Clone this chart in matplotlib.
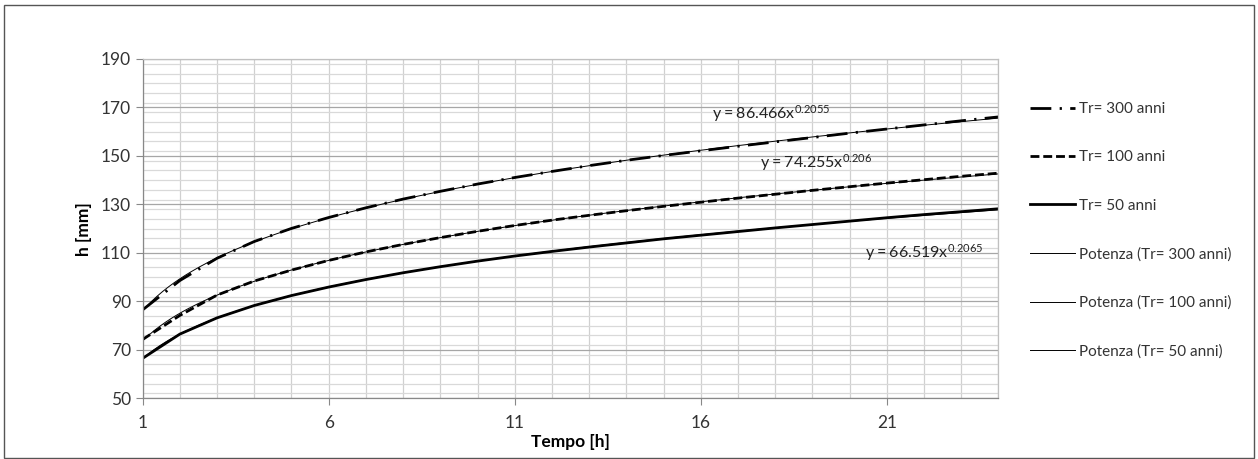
import numpy as np
import matplotlib.pyplot as plt
from matplotlib.patches import Rectangle
from matplotlib.ticker import MultipleLocator

plt.rcParams['font.family'] = ['Lato', 'DejaVu Sans']
plt.rcParams['mathtext.fontset'] = 'custom'
plt.rcParams['mathtext.rm'] = 'Lato'

# durata [h]
tempo = np.arange(1, 25)

# altezze di pioggia [mm]
h_300 = [86.5, 98.6, 107.8, 114.7, 120.1, 124.6, 128.6, 132.2, 135.4, 138.4,
         141.1, 143.6, 146.0, 148.2, 150.2, 152.1, 154.0, 155.8, 157.6, 159.4,
         161.1, 162.8, 164.5, 166.1]
h_100 = [74.3, 84.2, 92.6, 98.4, 102.9, 106.9, 110.4, 113.5, 116.3, 118.9,
         121.3, 123.5, 125.5, 127.4, 129.2, 130.9, 132.6, 134.2, 135.8, 137.3,
         138.8, 140.2, 141.6, 142.9]
h_50 = [66.5, 76.5, 83.2, 88.3, 92.4, 95.9, 99.0, 101.8, 104.3, 106.6,
        108.7, 110.6, 112.4, 114.1, 115.8, 117.3, 118.8, 120.3, 121.7, 123.1,
        124.5, 125.8, 127.0, 128.2]

labels = ["Tr= 300 anni", "Tr= 100 anni", "Tr= 50 anni"]
equations = [r"$\mathrm{y = 86.466x^{0.2055}}$",
             r"$\mathrm{y = 74.255x^{0.206}}$",
             r"$\mathrm{y = 66.519x^{0.2065}}$"]
eq_pos = [(16.3, 167.3), (17.6, 147.1), (20.4, 110.0)]

fig = plt.figure(figsize=(12.58, 4.59), dpi=100)
ax = fig.add_axes([0.1134, 0.1322, 0.6803, 0.7393])

lw = 2.0
styles = [dict(dashes=(7.5, 3, 0.8, 3)), dict(dashes=(3.2, 1.4)), dict(linestyle='-')]
series = [h_300, h_100, h_50]

data_lines = []
for h, lab, st in zip(series, labels, styles):
    l, = ax.plot(tempo, h, color='black', lw=lw, label=lab, **st)
    data_lines.append(l)

# linee di tendenza di potenza (regressione log-log come in Excel)
xx = np.linspace(1, 24, 300)
fit_lines = []
for h, lab in zip(series, labels):
    b, ln_a = np.polyfit(np.log(tempo), np.log(h), 1)
    l, = ax.plot(xx, np.exp(ln_a) * xx ** b, color='black', lw=0.7,
                 label="Potenza (%s)" % lab)
    fit_lines.append(l)

for eq, (x, y) in zip(equations, eq_pos):
    ax.text(x, y, eq, fontsize=11.5, va='center', ha='left', color='#222222')

ax.set_xlim(1, 24)
ax.set_ylim(50, 190)
ax.set_xticks([1, 6, 11, 16, 21])
ax.xaxis.set_minor_locator(MultipleLocator(1))
ax.set_yticks(np.arange(50, 191, 20))
ax.yaxis.set_minor_locator(MultipleLocator(4))
ax.grid(which='major', axis='y', color='#a6a6a6', lw=0.9)
ax.grid(which='minor', axis='y', color='#d9d9d9', lw=0.9)
ax.grid(which='both', axis='x', color='#d0d0d0', lw=0.9)
ax.set_axisbelow(True)
ax.tick_params(which='major', length=5, color='#888888', labelsize=12.5, labelcolor='#333333')
ax.tick_params(which='minor', length=0)
ax.tick_params(axis='x', pad=7)
for s in ['top', 'right']:
    ax.spines[s].set_color('#c0c0c0')
    ax.spines[s].set_linewidth(0.9)
for s in ['left', 'bottom']:
    ax.spines[s].set_color('#888888')
    ax.spines[s].set_linewidth(0.9)

ax.set_xlabel("Tempo [h]", fontsize=12.5, fontweight='bold', labelpad=2)
ax.set_ylabel("h [mm]", fontsize=12.5, fontweight='bold', labelpad=6)

fig.legend(handles=data_lines + fit_lines, loc='upper left',
           bbox_to_anchor=(0.808, 0.808), frameon=False, fontsize=11,
           handlelength=2.9, handletextpad=0.3, labelspacing=2.25,
           labelcolor='#333333')

fig.patches.append(Rectangle((0.003, 0.003), 0.994, 0.986, transform=fig.transFigure,
                             fill=False, edgecolor='#555555', lw=1.0))

fig.savefig("out.png", dpi=100)
